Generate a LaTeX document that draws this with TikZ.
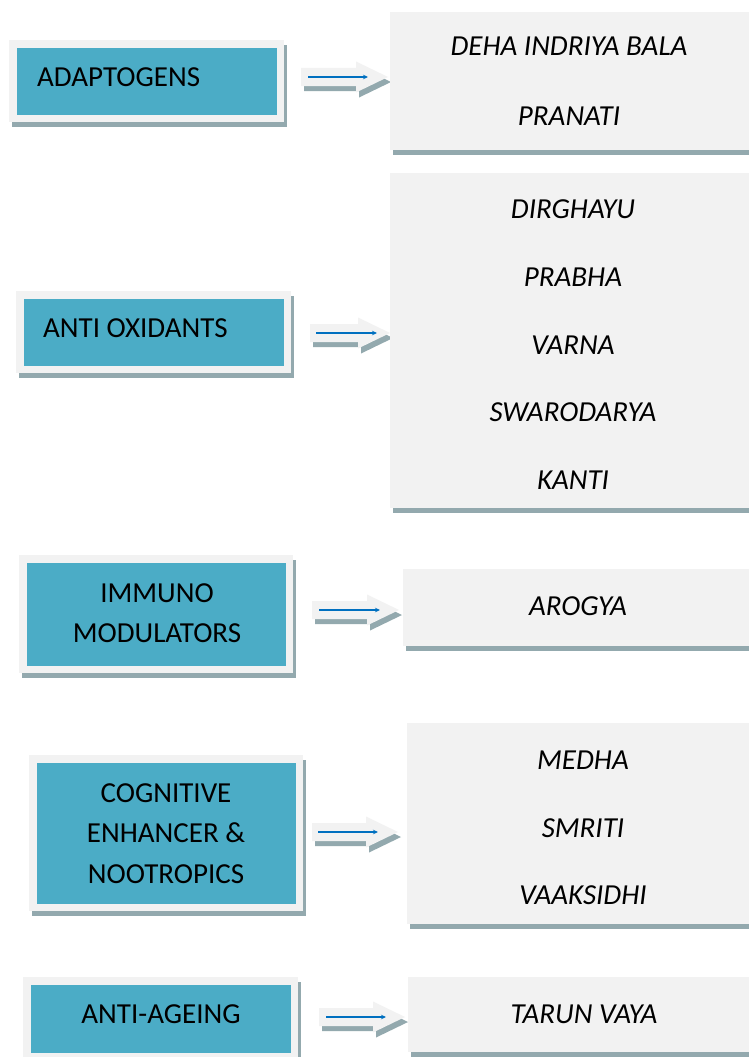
\documentclass[tikz,border=0pt]{standalone}
\usepackage{fontspec}
\setmainfont{Carlito}
\usetikzlibrary{arrows.meta}
\definecolor{tealfill}{HTML}{4BACC6}
\definecolor{panel}{HTML}{F2F2F2}
\definecolor{shadowgrey}{HTML}{93A9AE}
\definecolor{linkblue}{HTML}{0070C0}
% left category box: name, x0, y0, x1, y1 (outer frame)
\newcommand\catbox[5]{%
  \fill[shadowgrey] ({#2+3},{#3+5}) rectangle ({#4+3},{#5+5});
  \fill[panel] (#2,#3) rectangle (#4,#5);
  \fill[tealfill] ({#2+7.5},{#3+8}) rectangle ({#4-7.5},{#5-7.5});
  \coordinate (#1) at ({(#2+#4)/2},{(#3+#5)/2});
}
% right result box: name, x0, y0, y1
\newcommand\resbox[4]{%
  \fill[shadowgrey] ({#2+3},{#3+5}) rectangle (760,{#4+5});
  \fill[panel] (#2,#3) rectangle (760,#4);
  \coordinate (#1) at ({(#2+749)/2},{(#3+#4)/2});
}
% block arrow: x0, tip x, centre y
\newcommand\blkarrow[3]{%
  \fill[shadowgrey] ({#1+3},{#3-4}) -- ({#2-29},{#3-4}) -- ({#2-29},{#3-10.5}) -- ({#2+3},{#3+5})
     -- ({#2-29},{#3+20.5}) -- ({#2-29},{#3+14}) -- ({#1+3},{#3+14}) -- cycle;
  \fill[panel] (#1,{#3-9}) -- ({#2-32},{#3-9}) -- ({#2-32},{#3-15.5}) -- (#2,#3)
     -- ({#2-32},{#3+15.5}) -- ({#2-32},{#3+9}) -- (#1,{#3+9}) -- cycle;
}
\begin{document}
\begin{tikzpicture}[x=1pt,y=-1pt,
  lbl/.style={anchor=base, inner sep=0pt, font=\fontsize{29}{34}\selectfont},
  ilbl/.style={anchor=base, inner sep=0pt, font=\fontsize{29}{34}\selectfont\itshape},
  link/.style={draw=linkblue, line width=1.1pt, -{Stealth[length=5pt,width=4.5pt]}}
]
\useasboundingbox (0,0) rectangle (749,1057);
\clip (0,0) rectangle (749,1057);
\fill[white] (0,0) rectangle (749,1057);

% ---------- row 1 ----------
\catbox{c1}{9}{40}{284}{122}
\node[lbl, anchor=base west] (t1) at (37,86) {ADAPTOGENS};
\blkarrow{301}{388}{77}
\coordinate (a1s) at (308,77); \coordinate (a1e) at (368,77);
\draw[link] (a1s) -- (a1e);
\resbox{r1}{390}{12}{150}
\node[ilbl] (r1a) at (569,56) {DEHA INDRIYA BALA};
\node[ilbl] (r1b) at (569,125) {PRANATI};

% ---------- row 2 ----------
\catbox{c2}{16}{291}{291}{373}
\node[lbl, anchor=base west] (t2) at (43,337) {ANTI OXIDANTS};
\blkarrow{310}{390}{333}
\coordinate (a2s) at (316,333); \coordinate (a2e) at (377,333);
\draw[link] (a2s) -- (a2e);
\resbox{r2}{390}{173}{508}
\node[ilbl] (r2a) at (573,218) {DIRGHAYU};
\node[ilbl] (r2b) at (573,286) {PRABHA};
\node[ilbl] (r2c) at (573,354) {VARNA};
\node[ilbl] (r2d) at (573,421) {SWARODARYA};
\node[ilbl] (r2e) at (573,489) {KANTI};

% ---------- row 3 ----------
\catbox{c3}{19}{555}{293}{673}
\node[lbl] (t3a) at (157,602) {IMMUNO};
\node[lbl] (t3b) at (157,642) {MODULATORS};
\blkarrow{312}{399}{610}
\coordinate (a3s) at (319,610); \coordinate (a3e) at (380,610);
\draw[link] (a3s) -- (a3e);
\resbox{r3}{403}{569}{646}
\node[ilbl] (r3a) at (578,615) {AROGYA};

% ---------- row 4 ----------
\catbox{c4}{29}{755}{303}{911}
\node[lbl] (t4a) at (166,802) {COGNITIVE};
\node[lbl] (t4b) at (166,842) {ENHANCER \&};
\node[lbl] (t4c) at (166,883) {NOOTROPICS};
\blkarrow{312}{398}{832}
\coordinate (a4s) at (318,832); \coordinate (a4e) at (378,832);
\draw[link] (a4s) -- (a4e);
\resbox{r4}{407}{723}{924}
\node[ilbl] (r4a) at (583,769) {MEDHA};
\node[ilbl] (r4b) at (583,837) {SMRITI};
\node[ilbl] (r4c) at (583,904) {VAAKSIDHI};

% ---------- row 5 ----------
\catbox{c5}{23}{977}{298}{1060}
\node[lbl] (t5a) at (161,1023) {ANTI-AGEING};
\blkarrow{319}{405}{1017}
\coordinate (a5s) at (326,1017); \coordinate (a5e) at (386,1017);
\draw[link] (a5s) -- (a5e);
\resbox{r5}{408}{977}{1052}
\node[ilbl] (r5a) at (584,1023) {TARUN VAYA};
\end{tikzpicture}
\end{document}
